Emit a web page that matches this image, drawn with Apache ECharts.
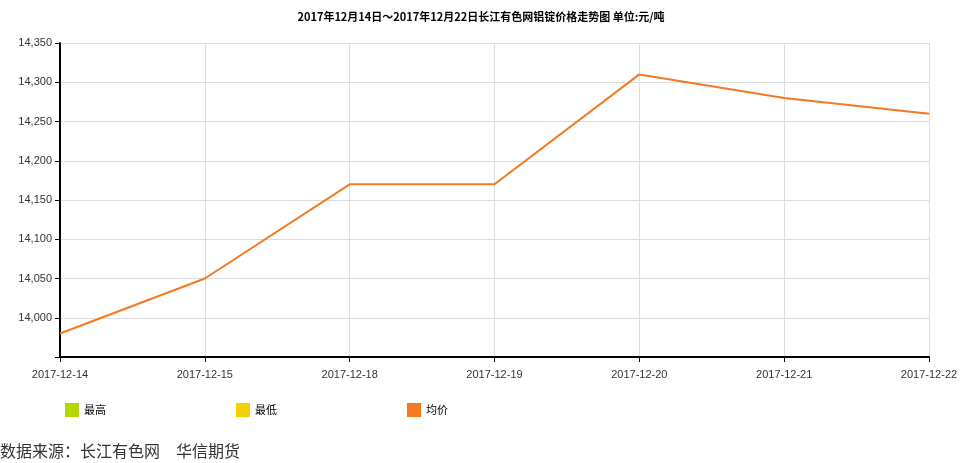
<!DOCTYPE html>
<html><head><meta charset="utf-8">
<script src="https://cdn.jsdelivr.net/npm/echarts@6/dist/echarts.min.js"></script>
<style>body{margin:0}#c{width:962px;height:463px}</style></head>
<body><div id="c"></div>
<script>
const categories=['2017-12-14','2017-12-15','2017-12-18','2017-12-19','2017-12-20','2017-12-21','2017-12-22'];
const avgPrice=[13980,14050,14170,14170,14310,14280,14260];
const seriesNames=['最高','最低','均价'];
const colors=['#b5d800','#f5cf00','#f47920'];
const chart=echarts.init(document.getElementById('c'));
chart.setOption({
  animation:false,
  title:{text:'2017年12月14日～2017年12月22日长江有色网铝锭价格走势图 单位:元/吨',left:'center',top:6,
    textStyle:{fontSize:11,fontWeight:'bold',color:'#000',fontFamily:'Noto Sans CJK SC'}},
  grid:{left:60,right:33,top:43,bottom:106},
  legend:{left:60,top:398,itemGap:130,itemWidth:14,itemHeight:14,icon:'rect',
    data:seriesNames,textStyle:{fontSize:11,color:'#000',fontFamily:'Noto Sans CJK SC'}},
  xAxis:{type:'category',data:categories,boundaryGap:false,
    axisLine:{lineStyle:{color:'#000',width:2}},axisTick:{show:true,lineStyle:{color:'#000'}},
    axisLabel:{color:'#333',fontSize:11,margin:12,fontFamily:'Liberation Sans'},
    splitLine:{show:true,lineStyle:{color:'#ddd'}}},
  yAxis:{type:'value',min:13950,max:14350,interval:50,
    axisLine:{show:true,lineStyle:{color:'#000',width:2}},axisTick:{show:true,lineStyle:{color:'#000'}},
    axisLabel:{color:'#333',fontSize:11,fontFamily:'Liberation Sans',
      formatter:v=>v===13950?'':v.toLocaleString('en-US')},
    splitLine:{lineStyle:{color:'#ddd'}}},
  series:[
    {name:seriesNames[0],type:'line',data:[],itemStyle:{color:colors[0]}},
    {name:seriesNames[1],type:'line',data:[],itemStyle:{color:colors[1]}},
    {name:seriesNames[2],type:'line',data:avgPrice,showSymbol:false,
      itemStyle:{color:colors[2]},lineStyle:{color:colors[2],width:2}}
  ],
  graphic:[{type:'text',left:0,top:443,style:{text:'数据来源：长江有色网　华信期货',fontSize:16,fill:'#333',fontFamily:'Noto Sans CJK SC'}}]
});
</script></body></html>
